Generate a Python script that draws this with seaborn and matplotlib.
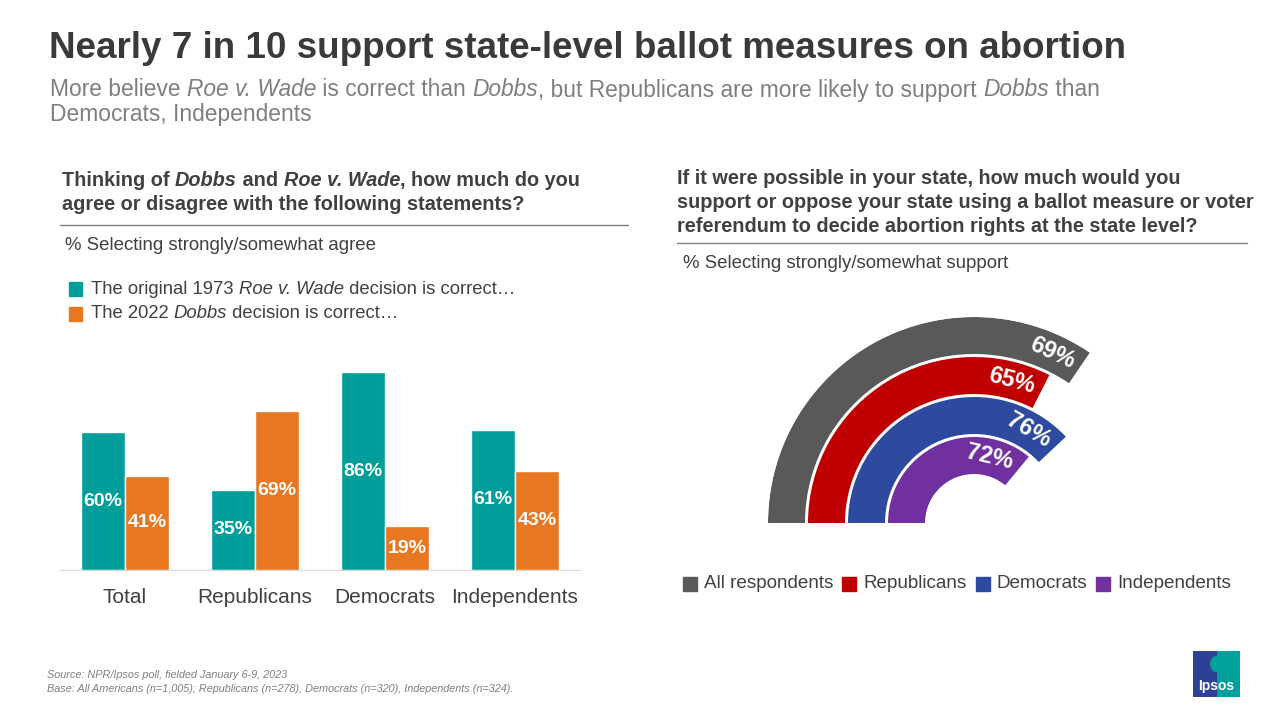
import seaborn as sns
import matplotlib.pyplot as plt
import matplotlib.patches as mpatches
from matplotlib.lines import Line2D
import numpy as np
import pandas as pd

W, H = 1280, 720

# left chart data
groups = ['Total', 'Republicans', 'Democrats', 'Independents']
roe_correct = [60, 35, 86, 61]
dobbs_correct = [41, 69, 19, 43]

# right chart data
ring_groups = ['All respondents', 'Republicans', 'Democrats', 'Independents']
ring_support = [69, 65, 76, 72]

TEAL = '#009e9a'
ORANGE = '#e87722'
ring_colors = ['#595959', '#c00000', '#2e4a9e', '#7030a0']
DARK = '#404040'
GREY = '#7f7f7f'

sns.set_style('white')
plt.rcParams['font.family'] = ['Liberation Sans', 'DejaVu Sans']

fig = plt.figure(figsize=(12.8, 7.2), dpi=100)
renderer = fig.canvas.get_renderer()


def fx(x):
    return x / W


def fy(y):
    return 1 - y / H


def rich(x, y, parts, size, color, weight='normal'):
    # draw text pieces one after the other (mixed italic)
    for s, style in parts:
        t = fig.text(fx(x), fy(y), s, fontsize=size, color=color, fontstyle=style,
                     fontweight=weight, va='center', ha='left')
        x += t.get_window_extent(renderer).width
    return x


def hline(x0, x1, y, color=GREY):
    fig.add_artist(Line2D([fx(x0), fx(x1)], [fy(y), fy(y)], color=color, lw=1))


def square(x, y, color, s=14):
    fig.add_artist(mpatches.Rectangle((fx(x), fy(y + s / 2)), s / W, s / H,
                                      transform=fig.transFigure, color=color))


# title + subtitle
fig.text(fx(49), fy(48), 'Nearly 7 in 10 support state-level ballot measures on abortion',
         fontsize=26.5, fontweight='bold', color='#3a3a3a', va='center')
rich(50, 90, [('More believe ', 'normal'), ('Roe v. Wade', 'italic'), (' is correct than ', 'normal'),
              ('Dobbs', 'italic'), (', but Republicans are more likely to support ', 'normal'),
              ('Dobbs', 'italic'), (' than', 'normal')], 16.4, GREY)
rich(50, 115, [('Democrats, Independents', 'normal')], 16.4, GREY)

# left header
rich(62, 180, [('Thinking of ', 'normal'), ('Dobbs', 'italic'), (' and ', 'normal'),
               ('Roe v. Wade', 'italic'), (', how much do you', 'normal')], 14.3, DARK, 'bold')
rich(62, 204, [('agree or disagree with the following statements?', 'normal')], 14.3, DARK, 'bold')
hline(60, 628, 225)
rich(65, 245, [('% Selecting strongly/somewhat agree', 'normal')], 13.4, DARK)
square(69, 289, TEAL, 13)
rich(91, 289, [('The original 1973 ', 'normal'), ('Roe v. Wade', 'italic'),
               (' decision is correct\u2026', 'normal')], 13.3, DARK)
square(69, 314, ORANGE, 13)
rich(91, 314, [('The 2022 ', 'normal'), ('Dobbs', 'italic'), (' decision is correct\u2026', 'normal')],
     13.3, DARK)

# left bar chart
df = pd.DataFrame({'group': groups * 2,
                   'series': ['roe'] * len(groups) + ['dobbs'] * len(groups),
                   'pct': roe_correct + dobbs_correct})
ax = fig.add_axes([fx(60), fy(570), 520 / W, 230 / H])
sns.barplot(data=df, x='group', y='pct', hue='series', palette=[TEAL, ORANGE],
            width=0.68, gap=0, saturation=1, legend=False, ax=ax)
ax.set_ylim(0, 100)
ax.set_xlim(-0.5, len(groups) - 0.5)
ax.set_xlabel('')
ax.set_ylabel('')
ax.set_yticks([])
ax.tick_params(axis='x', length=0, pad=13, labelsize=15, labelcolor=DARK)
for side in ['top', 'left', 'right']:
    ax.spines[side].set_visible(False)
ax.spines['bottom'].set_color('#d9d9d9')
for cont in ax.containers:
    for bar in cont:
        h = bar.get_height()
        ax.text(bar.get_x() + bar.get_width() / 2, h / 2, f'{h:.0f}%', ha='center', va='center',
                color='white', fontsize=14, fontweight='bold')

# right header
rich(677, 178, [('If it were possible in your state, how much would you', 'normal')], 14.3, DARK, 'bold')
rich(677, 202, [('support or oppose your state using a ballot measure or voter', 'normal')], 14.3, DARK, 'bold')
rich(677, 226, [('referendum to decide abortion rights at the state level?', 'normal')], 14.3, DARK, 'bold')
hline(677, 1247, 243)
rich(683, 264, [('% Selecting strongly/somewhat support', 'normal')], 13.4, DARK)

# right radial bars
R = 206
ring_w = 37
pax = fig.add_axes([fx(974 - R), fy(523 + R), 2 * R / W, 2 * R / H], projection='polar')
pax.set_theta_zero_location('W')
pax.set_theta_direction(-1)
pax.set_ylim(0, R)
pax.set_axis_off()
for i, (v, c) in enumerate(zip(ring_support, ring_colors)):
    bottom = R - ring_w - i * 40
    end = v / 100 * np.pi
    pax.bar(0, ring_w, width=end, bottom=bottom, align='edge', color=c, linewidth=0)
    r_mid = bottom + ring_w / 2
    th = end - 31 / r_mid
    pax.text(th, r_mid, f'{v}%', rotation=90 - np.degrees(th), rotation_mode='anchor',
             ha='center', va='center', color='white', fontsize=17, fontweight='bold')

# right legend
x = 683
for name, c in zip(ring_groups, ring_colors):
    square(x, 584, c)
    x = rich(x + 21, 584, [(name, 'normal')], 13.6, DARK) + 9

# footer
fig.text(fx(47), fy(675), 'Source: NPR/Ipsos poll, fielded January 6-9, 2023', fontsize=7.8,
         color=GREY, style='italic', va='center')
fig.text(fx(47), fy(689), 'Base: All Americans (n=1,005); Republicans (n=278), Democrats (n=320), '
         'Independents (n=324).', fontsize=7.8, color=GREY, style='italic', va='center')

# logo
fig.add_artist(mpatches.Rectangle((fx(1193), fy(697)), 24 / W, 46 / H, transform=fig.transFigure,
                                  color='#2e3f96', lw=0))
fig.add_artist(mpatches.Rectangle((fx(1217), fy(697)), 23 / W, 46 / H, transform=fig.transFigure,
                                  color='#00a19a', lw=0))
fig.add_artist(mpatches.Ellipse((fx(1216), fy(664)), 12 / W, 16 / H, transform=fig.transFigure,
                                color='#00a19a', lw=0))
fig.text(fx(1216), fy(686), 'Ipsos', fontsize=10, fontweight='bold', color='white',
         ha='center', va='center')

fig.savefig('out.png', dpi=100)
